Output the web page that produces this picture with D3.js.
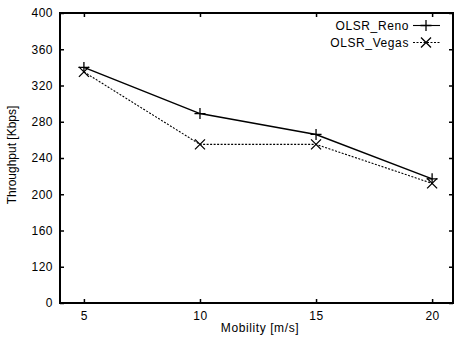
<!DOCTYPE html>
<html>
<head>
<meta charset="utf-8">
<script src="https://cdn.jsdelivr.net/npm/d3@7"></script>
<style>
  html, body { margin: 0; padding: 0; background: #fff; }
  svg { display: block; font-family: "Liberation Sans", Arial, sans-serif; }
  .tick text { font-size: 12px; letter-spacing: 0.5px; fill: #000; }
  .lbl { font-size: 12px; letter-spacing: 0.6px; fill: #000; }
  .ylbl { font-size: 12px; fill: #000; }
</style>
</head>
<body>
<svg id="chart" width="456" height="341"></svg>
<script>
  // Data
  var mobility = [5, 10, 15, 20];
  var renoValues = [340, 289, 266, 217];
  var vegasValues = [335, 255, 255, 212];
  var seriesNames = ['OLSR_Reno', 'OLSR_Vegas'];
  var yTickValues = [80, 120, 160, 200, 240, 280, 320, 360, 400];
  var yTickLabels = ['0', '120', '160', '200', '240', '280', '320', '360', '400'];
  var xTickValues = [5, 10, 15, 20];

  var margin = { left: 60, top: 13, right: 3, bottom: 38 };
  var width = 456, height = 341;

  var svg = d3.select('#chart');

  var x = d3.scaleLinear().domain([3.97, 20.9]).range([margin.left, width - margin.right]);
  var y = d3.scaleLinear().domain([80, 400]).range([height - margin.bottom, margin.top]);

  // Axes with inward ticks (mirrored on top and right)
  svg.append('g')
    .attr('transform', 'translate(0,' + y(80) + ')')
    .call(d3.axisBottom(x).tickValues(xTickValues).tickSize(-4).tickPadding(8))
    .call(function (g) { g.select('.domain').remove(); });

  svg.append('g')
    .attr('transform', 'translate(' + x.range()[0] + ',0)')
    .call(d3.axisLeft(y).tickValues(yTickValues)
      .tickFormat(function (d, i) { return yTickLabels[i]; })
      .tickSize(-4).tickPadding(7))
    .call(function (g) { g.select('.domain').remove(); });

  svg.append('g')
    .attr('transform', 'translate(0,' + y(400) + ')')
    .call(d3.axisTop(x).tickValues(xTickValues).tickSize(-4).tickFormat(''))
    .call(function (g) { g.select('.domain').remove(); });

  svg.append('g')
    .attr('transform', 'translate(' + x.range()[1] + ',0)')
    .call(d3.axisRight(y).tickValues(yTickValues).tickSize(-4).tickFormat(''))
    .call(function (g) { g.select('.domain').remove(); });

  svg.selectAll('.tick line').attr('stroke', '#000').attr('stroke-width', 1.5);

  // Frame
  svg.append('rect')
    .attr('x', x.range()[0]).attr('y', y(400))
    .attr('width', x.range()[1] - x.range()[0])
    .attr('height', y(80) - y(400))
    .attr('fill', 'none').attr('stroke', '#000').attr('stroke-width', 2);

  // Axis titles
  svg.append('text').attr('class', 'lbl')
    .attr('x', 260).attr('y', 332)
    .attr('text-anchor', 'middle').text('Mobility [m/s]');

  svg.append('text').attr('class', 'ylbl')
    .attr('transform', 'translate(12,155) rotate(-90)')
    .attr('text-anchor', 'middle').attr('dy', '0.35em').text('Throughput [Kbps]');

  function plusPath(s) {
    return 'M' + (-s) + ',0H' + s + 'M0,' + (-s) + 'V' + s;
  }
  function crossPath(s) {
    return 'M' + (-s) + ',' + (-s) + 'L' + s + ',' + s + 'M' + (-s) + ',' + s + 'L' + s + ',' + (-s);
  }

  var line = d3.line()
    .x(function (d) { return x(d[0]); })
    .y(function (d) { return y(d[1]); });

  var series = [
    { name: seriesNames[0], values: renoValues, dash: null, width: 1.5, marker: plusPath(5.5) },
    { name: seriesNames[1], values: vegasValues, dash: '2,1.5', width: 1.1, marker: crossPath(5) }
  ];

  series.forEach(function (s, k) {
    var pts = mobility.map(function (m, i) { return [m, s.values[i]]; });
    svg.append('path')
      .datum(pts)
      .attr('d', line)
      .attr('fill', 'none')
      .attr('stroke', '#000')
      .attr('stroke-width', s.width)
      .attr('stroke-dasharray', s.dash);
    svg.append('g').selectAll('path')
      .data(pts)
      .join('path')
      .attr('transform', function (d) { return 'translate(' + x(d[0]) + ',' + y(d[1]) + ')'; })
      .attr('d', s.marker)
      .attr('fill', 'none')
      .attr('stroke', '#000')
      .attr('stroke-width', 1.3);

    // Legend entry
    var ly = 25.5 + k * 17;
    svg.append('text').attr('class', 'lbl')
      .attr('x', 409).attr('y', ly).attr('dy', '0.35em')
      .attr('text-anchor', 'end').text(s.name);
    svg.append('line')
      .attr('x1', 413).attr('x2', 440).attr('y1', ly).attr('y2', ly)
      .attr('stroke', '#000').attr('stroke-width', 1.1)
      .attr('stroke-dasharray', s.dash);
    svg.append('path')
      .attr('transform', 'translate(426,' + ly + ')')
      .attr('d', s.marker)
      .attr('fill', 'none').attr('stroke', '#000').attr('stroke-width', 1.3);
  });
</script>
</body>
</html>
